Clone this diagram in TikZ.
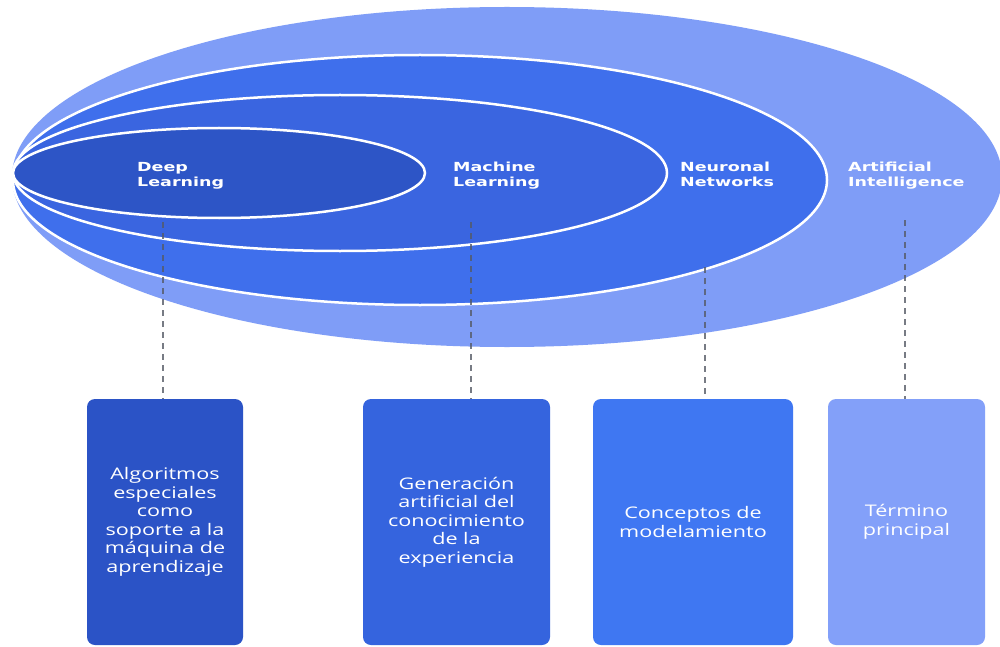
\documentclass[tikz,border=0pt]{standalone}
\usepackage{fontspec}
\newfontfamily\tagfont{DejaVu Sans}[FakeStretch=1.4]
\newfontfamily\cardfont{Open Sans}[FakeStretch=1.35]
\definecolor{aiBlue}{HTML}{7F9DF7}
\definecolor{nnBlue}{HTML}{3F6FEC}
\definecolor{mlBlue}{HTML}{3A65E0}
\definecolor{dlBlue}{HTML}{2D55C6}
\definecolor{dlCard}{HTML}{2B53C6}
\definecolor{mlCard}{HTML}{3564DE}
\definecolor{nnCard}{HTML}{3F77F2}
\definecolor{aiCard}{HTML}{83A0F9}
\definecolor{leader}{HTML}{555A66}
\tikzset{
  ring/.style={draw=white, line width=2.5pt},
  tag/.style={anchor=north west, inner sep=0pt, text=white, align=left,
    font=\tagfont\bfseries\fontsize{12.5}{15}\selectfont},
  card/.style={rounded corners=8pt, inner sep=0pt, text=white, align=center,
    font=\cardfont\fontsize{16}{18.5}\selectfont},
  leaderline/.style={draw=leader, line width=2pt, dash pattern=on 6pt off 5pt, opacity=0.8}
}
\begin{document}
\begin{tikzpicture}[x=1pt, y=-1pt]
  \useasboundingbox (0,0) rectangle (1000,647);
  \clip (0,0) rectangle (1000,647);
  \fill[white] (0,0) rectangle (1000,647);

  % nested fields, each sharing the same left tip
  \fill[aiBlue] (507,177) ellipse [x radius=495pt, y radius=170pt];
  \fill[nnBlue] (420,180) ellipse [x radius=407pt, y radius=125pt];
  \draw[ring]   (420,180) ellipse [x radius=407pt, y radius=125pt];
  \fill[mlBlue] (340,173) ellipse [x radius=327pt, y radius=78pt];
  \draw[ring]   (340,173) ellipse [x radius=327pt, y radius=78pt];
  \fill[dlBlue] (219,173) ellipse [x radius=206pt, y radius=45pt];
  \draw[ring]   (219,173) ellipse [x radius=206pt, y radius=45pt];

  % field labels
  \node[tag] (tdl) at (137,162) {Deep\\Learning};
  \node[tag] (tml) at (453,162) {Machine\\Learning};
  \node[tag] (tnn) at (680,162) {Neuronal\\Networks};
  \node[tag] (tai) at (848,162) {Artificial\\Intelligence};

  % description cards
  \node[card, fill=dlCard, minimum width=156pt, minimum height=246pt] (bdl) at (165,522)
    {Algoritmos\\especiales\\como\\soporte a la\\máquina de\\aprendizaje};
  \node[card, fill=mlCard, minimum width=187pt, minimum height=246pt] (bml) at (456.5,522)
    {Generación\\artificial del\\conocimiento\\de la\\experiencia};
  \node[card, fill=nnCard, minimum width=200pt, minimum height=246pt] (bnn) at (693,522)
    {Conceptos de\\modelamiento};
  \node[card, fill=aiCard, minimum width=157pt, minimum height=246pt] (bai) at (906.5,522)
    {Término\\principal};

  % leader lines from each field to its card
  \coordinate (cdl) at (163,222);
  \coordinate (cml) at (471,222);
  \coordinate (cnn) at (705,267);
  \coordinate (cai) at (905,220);
  \draw[leaderline] (cdl) -- (cdl |- bdl.north);
  \draw[leaderline] (cml) -- (cml |- bml.north);
  \draw[leaderline] (cnn) -- (cnn |- bnn.north);
  \draw[leaderline] (cai) -- (cai |- bai.north);
\end{tikzpicture}
\end{document}
